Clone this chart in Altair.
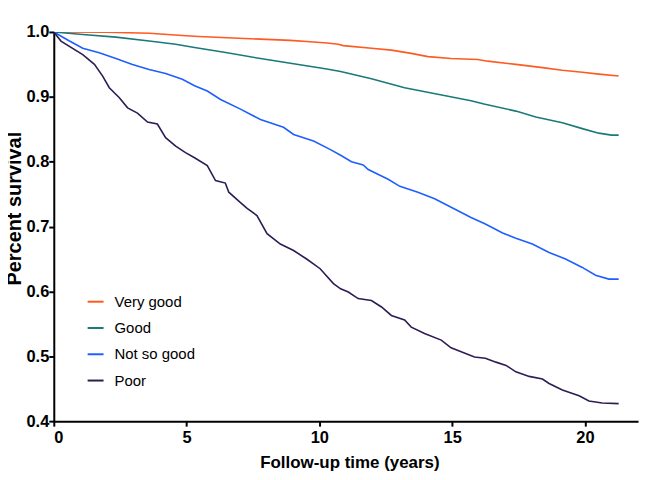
import altair as alt
import pandas as pd

series_names = ["Very good", "Good", "Not so good", "Poor"]
series_colors = ["#FF5A1F", "#1A7A7A", "#1F5FFF", "#2E1C55"]

vg_t = [0, 2.0, 3.6, 4.84, 5.46, 6.53, 7.78, 8.9, 9.65, 10.3, 10.71, 10.9, 11.96, 12.71, 13.46,
        14.09, 14.96, 15.96, 16.34, 17.4, 18.4, 19.15, 19.9, 20.52, 21.27]
vg_s = [1.0, 0.9995, 0.998, 0.9945, 0.993, 0.991, 0.989, 0.987, 0.985, 0.983, 0.981, 0.979, 0.975,
        0.972, 0.967, 0.962, 0.959, 0.9576, 0.955, 0.950, 0.945, 0.941, 0.938, 0.935, 0.932]

g_t = [0, 1.09, 2.34, 3.59, 4.59, 5.3, 6.53, 7.78, 9.03, 10.28, 10.8, 11.96, 13.21, 14.46, 15.71,
       16.2, 17.4, 18.15, 19.15, 19.9, 20.52, 21.0, 21.27]
g_s = [1.0, 0.996, 0.992, 0.986, 0.981, 0.976, 0.968, 0.959, 0.951, 0.943, 0.939, 0.928, 0.914,
       0.904, 0.894, 0.889, 0.878, 0.869, 0.860, 0.851, 0.844, 0.841, 0.841]

nsg_t = [0, 0.59, 1.09, 1.71, 2.34, 2.96, 3.59, 4.21, 4.84, 5.3, 5.78, 6.28, 7.03, 7.78, 8.65,
         9.03, 9.78, 10.4, 10.8, 11.21, 11.65, 11.84, 12.59, 13.03, 13.71, 14.34, 15.09, 15.71,
         16.25, 16.9, 17.4, 18.02, 18.65, 19.27, 19.9, 20.4, 20.9, 21.27]
nsg_s = [1.0, 0.986, 0.975, 0.968, 0.959, 0.950, 0.942, 0.936, 0.927, 0.917, 0.909, 0.896, 0.881,
         0.865, 0.853, 0.842, 0.832, 0.819, 0.810, 0.800, 0.795, 0.788, 0.773, 0.762, 0.753,
         0.743, 0.727, 0.714, 0.704, 0.690, 0.682, 0.673, 0.660, 0.650, 0.637, 0.625, 0.619, 0.619]

p_t = [0, 0.27, 1.09, 1.53, 1.84, 2.09, 2.46, 2.78, 3.15, 3.53, 3.9, 4.21, 4.59, 4.96, 5.3, 5.78,
       6.09, 6.46, 6.59, 7.03, 7.28, 7.65, 8.03, 8.53, 9.03, 9.52, 10.03, 10.53, 10.8, 11.09,
       11.46, 11.96, 12.34, 12.71, 13.21, 13.46, 13.96, 14.59, 14.96, 15.34, 15.84, 16.25, 16.65,
       17.03, 17.4, 17.9, 18.4, 18.65, 19.15, 19.78, 20.15, 20.65, 21.27]
p_s = [1.0, 0.986, 0.965, 0.950, 0.932, 0.914, 0.899, 0.883, 0.875, 0.861, 0.858, 0.837, 0.824,
       0.814, 0.806, 0.794, 0.771, 0.767, 0.753, 0.737, 0.728, 0.717, 0.689, 0.673, 0.663, 0.650,
       0.635, 0.612, 0.604, 0.599, 0.589, 0.586, 0.576, 0.563, 0.556, 0.545, 0.535, 0.525, 0.513,
       0.507, 0.499, 0.497, 0.491, 0.486, 0.476, 0.469, 0.465, 0.458, 0.448, 0.439, 0.431, 0.428,
       0.427]

x_ticks = [0, 5, 10, 15, 20]
y_ticks = [0.4, 0.5, 0.6, 0.7, 0.8, 0.9, 1.0]

rows = []
for name, ts, ss in zip(series_names, [vg_t, g_t, nsg_t, p_t], [vg_s, g_s, nsg_s, p_s]):
    for t, s in zip(ts, ss):
        rows.append({"group": name, "time": t, "survival": s})
df = pd.DataFrame(rows)

FONT = "Liberation Sans"

chart = alt.Chart(df).mark_line(strokeWidth=1.6, clip=True).encode(
    x=alt.X("time:Q", scale=alt.Scale(domain=[0, 22], nice=False, zero=False),
            axis=alt.Axis(values=x_ticks, title="Follow-up time (years)", titleY=34,
                          titleX=297)),
    y=alt.Y("survival:Q", scale=alt.Scale(domain=[0.4, 1.0], nice=False, zero=False),
            axis=alt.Axis(values=y_ticks, format=".1f", title="Percent survival",
                          titleX=-29, titleY=177, titleFontSize=20, labelPadding=0)),
    color=alt.Color("group:N",
                    scale=alt.Scale(domain=series_names, range=series_colors),
                    sort=series_names,
                    legend=alt.Legend(title=None, orient="none", legendX=33, legendY=262,
                                      symbolType="stroke", symbolSize=256,
                                      symbolStrokeWidth=2, labelFontSize=15,
                                      labelFont=FONT, labelColor="black",
                                      labelOffset=10, rowPadding=9.4, padding=0)),
    order=alt.Order("time:Q"),
).properties(
    width=587, height=391,
    autosize=alt.AutoSizeParams(type="none"),
    padding={"left": 46, "top": 23, "right": 12, "bottom": 50},
).configure_view(strokeWidth=0).configure_axis(
    grid=False,
    domainColor="black", domainWidth=2,
    tickColor="black", tickWidth=2, tickSize=5,
    labelFont=FONT, labelFontSize=16.5, labelFontWeight="bold", labelColor="black",
    labelPadding=3,
    titleFont=FONT, titleFontSize=17, titleFontWeight="bold", titleColor="black",
)

chart.save("out.html", embed_options={"renderer": "svg", "actions": False})
